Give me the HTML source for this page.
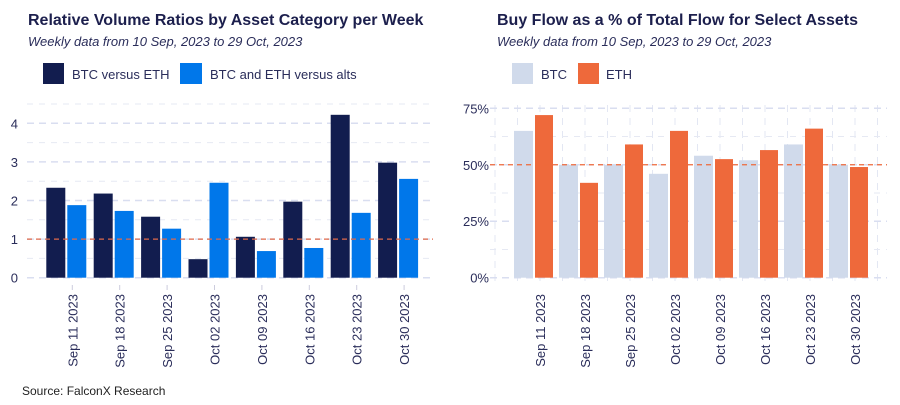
<!DOCTYPE html>
<html><head><meta charset="utf-8"><style>
body{margin:0;background:#fff;width:900px;height:400px;overflow:hidden;font-family:"Liberation Sans",sans-serif}
</style></head><body>
<svg id="svg" width="900" height="400" xmlns="http://www.w3.org/2000/svg" font-family="Liberation Sans, sans-serif">
<rect width="900" height="400" fill="#fff"/>
<text x="28" y="25" font-size="16" font-weight="bold" fill="#1c1f4d">Relative Volume Ratios by Asset Category per Week</text>
<text x="28" y="46" font-size="13" font-style="italic" fill="#2a2d5a">Weekly data from 10 Sep, 2023 to 29 Oct, 2023</text>
<rect x="43" y="63" width="21" height="21" fill="#121d4f"/>
<text x="72" y="79" font-size="13" fill="#2a2d5a">BTC versus ETH</text>
<rect x="180" y="63" width="22" height="21" fill="#0077ea"/>
<text x="210" y="79" font-size="13" fill="#2a2d5a">BTC and ETH versus alts</text>
<text x="497" y="25" font-size="16" font-weight="bold" fill="#1c1f4d">Buy Flow as a % of Total Flow for Select Assets</text>
<text x="497" y="46" font-size="13" font-style="italic" fill="#2a2d5a">Weekly data from 10 Sep, 2023 to 29 Oct, 2023</text>
<rect x="512" y="63" width="21" height="21" fill="#d0daeb"/>
<text x="541" y="79" font-size="13" fill="#2a2d5a">BTC</text>
<rect x="578" y="63" width="21" height="21" fill="#ee693b"/>
<text x="606" y="79" font-size="13" fill="#2a2d5a">ETH</text>
<text x="22" y="395" font-size="12" fill="#222">Source: FalconX Research</text>
<g id="left"></g>
<g id="right"></g>
</svg>
<script>
const categories = ["Sep 11 2023","Sep 18 2023","Sep 25 2023","Oct 02 2023","Oct 09 2023","Oct 16 2023","Oct 23 2023","Oct 30 2023"];
const btcVsEth = [2.33, 2.18, 1.58, 0.48, 1.06, 1.97, 4.22, 2.98];
const btcEthVsAlts = [1.88, 1.73, 1.27, 2.46, 0.69, 0.77, 1.68, 2.56];
const leftTicks = [0, 1, 2, 3, 4];
const btcBuyPct = [65, 50, 50, 46, 54, 52, 59, 50];
const ethBuyPct = [72, 42, 59, 65, 52.5, 56.5, 66, 49];
const rightTicks = [0, 25, 50, 75];

const NS = "http://www.w3.org/2000/svg";
function mk(parent, tag, attrs){const e=document.createElementNS(NS,tag);for(const k in attrs)e.setAttribute(k,attrs[k]);parent.appendChild(e);return e;}

// Left chart
(function(){
  const g=document.getElementById('left');
  const y=v=>277.7-(v/4)*154.4;
  const x=i=>72.3+i*47.4;
  const x0=27,x1=433;
  // minor grid
  for(let v=0.5;v<=4.5;v+=1){const l=mk(g,'line',{x1:x0,x2:x1,y1:y(v),y2:y(v),stroke:'#e6e9f3','stroke-width':1,'stroke-dasharray':'6,6'});
    }
  leftTicks.forEach(v=>{
    const l=mk(g,'line',{x1:x0,x2:x1,y1:y(v),y2:y(v),stroke:'#d9def0','stroke-width':1.5,'stroke-dasharray':'7,5'});
    
    const t=mk(g,'text',{x:18,y:y(v)+5,'font-size':13,fill:'#2a2d5a','text-anchor':'end'});t.textContent=v;
    
  });
  categories.forEach((c,i)=>{
    const cx=x(i)-6;
    const b1=mk(g,'rect',{x:cx-20,y:y(btcVsEth[i]),width:19,height:y(0)-y(btcVsEth[i]),fill:'#121d4f'});
    
    const b2=mk(g,'rect',{x:cx+1,y:y(btcEthVsAlts[i]),width:19,height:y(0)-y(btcEthVsAlts[i]),fill:'#0077ea'});
    
    const tk=mk(g,'line',{x1:x(i),x2:x(i),y1:285,y2:290,stroke:'#ccd',});
    
    const t=mk(g,'text',{transform:`translate(${x(i)+5},294) rotate(-90)`,'font-size':13,fill:'#2a2d5a','text-anchor':'end'});t.textContent=c;
    
  });
  const r=mk(g,'line',{x1:x0,x2:x1,y1:y(1),y2:y(1),stroke:'#e0694a','stroke-width':1.3,'stroke-dasharray':'5,4'});
  
})();

// Right chart
(function(){
  const g=document.getElementById('right');
  const y=v=>277.7-(v/75)*169.4;
  const x=i=>540+i*45;
  const x0=490,x1=887;
  for(let i=-1;i<=8;i++){
    [x(i)-22.5,x(i)].forEach(xx=>{ if(xx<x0||xx>x1)return;
      const l=mk(g,'line',{x1:xx,x2:xx,y1:105,y2:285,stroke:'#e3e7f3','stroke-width':1,'stroke-dasharray':'7,6'});
      });
  }
  for(let v=12.5;v<80;v+=25){const l=mk(g,'line',{x1:x0,x2:x1,y1:y(v),y2:y(v),stroke:'#e6e9f3','stroke-width':1,'stroke-dasharray':'6,6'});
    }
  rightTicks.forEach(v=>{
    const l=mk(g,'line',{x1:x0,x2:x1,y1:y(v),y2:y(v),stroke:'#d9def0','stroke-width':1.5,'stroke-dasharray':'7,5'});
    
    const t=mk(g,'text',{x:489,y:y(v)+5,'font-size':13,fill:'#2a2d5a','text-anchor':'end'});t.textContent=v+'%';
    
  });
  categories.forEach((c,i)=>{
    const cx=x(i)-6;
    const b1=mk(g,'rect',{x:cx-20,y:y(btcBuyPct[i]),width:19,height:y(0)-y(btcBuyPct[i]),fill:'#d0daeb'});
    
    const b2=mk(g,'rect',{x:cx+1,y:y(ethBuyPct[i]),width:18,height:y(0)-y(ethBuyPct[i]),fill:'#ee693b'});
    
    const t=mk(g,'text',{transform:`translate(${x(i)+5},294) rotate(-90)`,'font-size':13,fill:'#2a2d5a','text-anchor':'end'});t.textContent=c;
    
  });
  const r=mk(g,'line',{x1:x0,x2:x1,y1:y(50),y2:y(50),stroke:'#ee693b','stroke-width':1.3,'stroke-dasharray':'5,4'});
  
})();
</script>
</body></html>
